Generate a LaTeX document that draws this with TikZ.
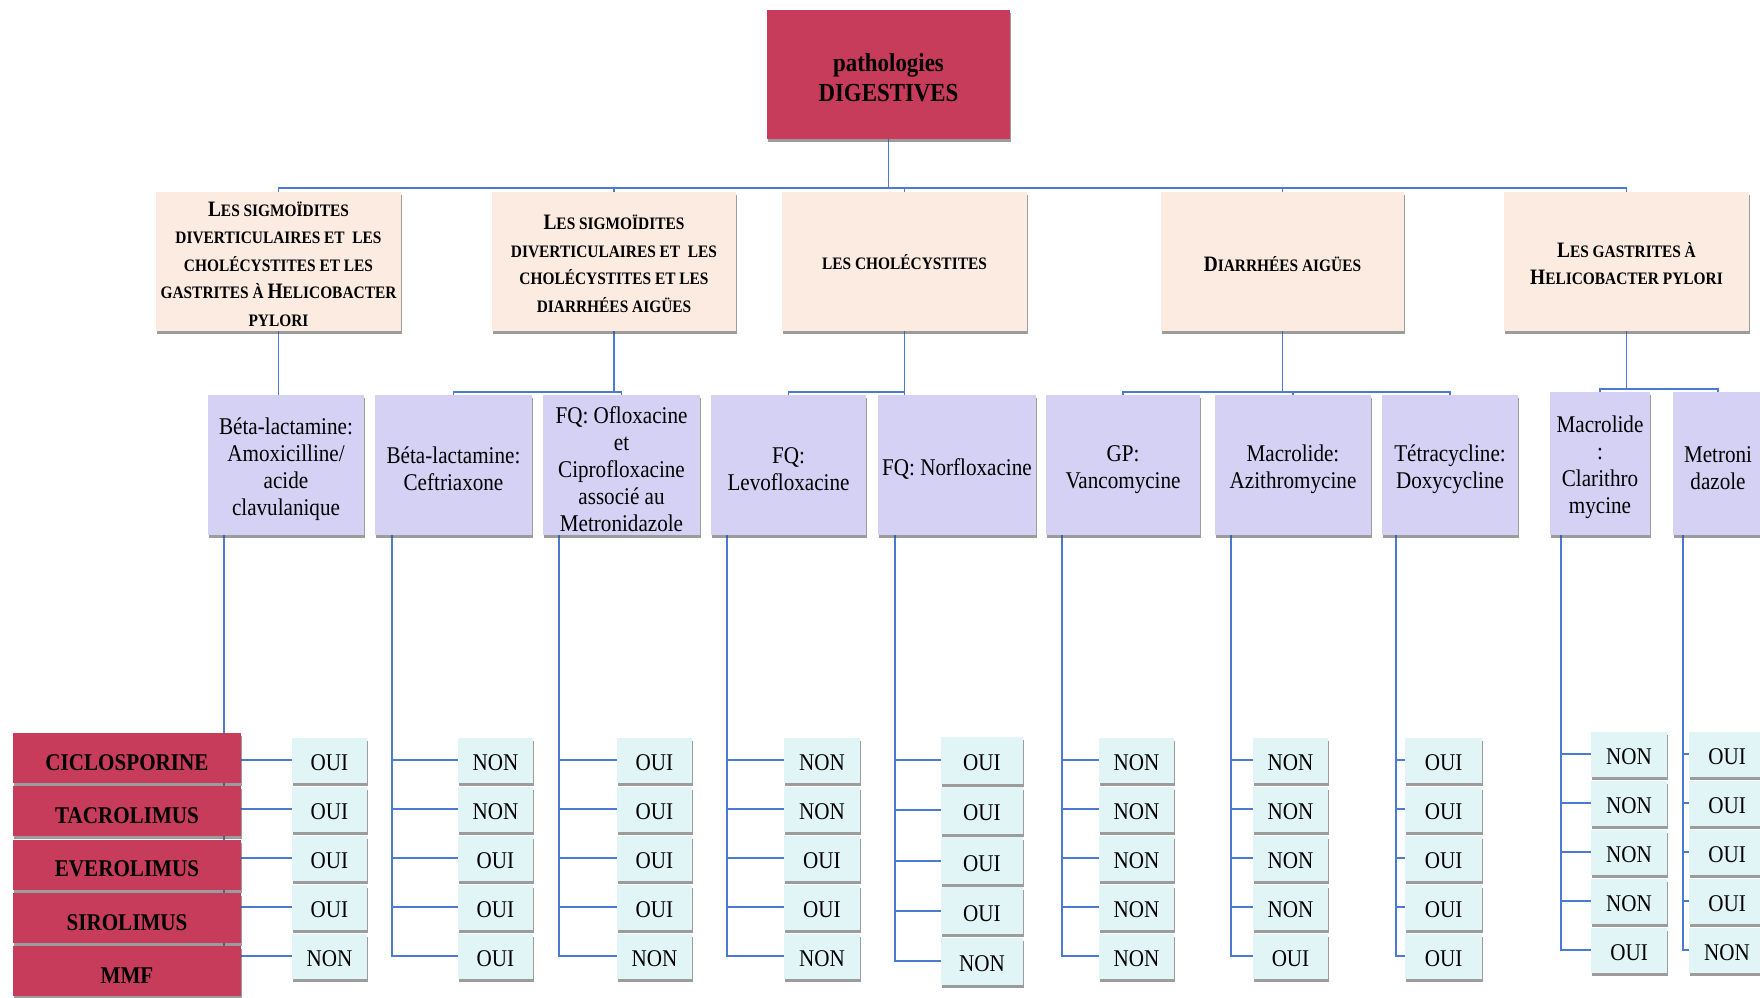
\documentclass[tikz,border=0pt]{standalone}
\usepackage{fontspec}
\setmainfont{Liberation Serif}[FakeStretch=0.88]
\usetikzlibrary{shadows,backgrounds}
\definecolor{crimson}{HTML}{C63C5A}
\definecolor{peach}{HTML}{FCEBE1}
\definecolor{lav}{HTML}{D4D1F5}
\definecolor{aqua}{HTML}{E2F5F6}
\definecolor{connc}{HTML}{4A7BD0}
\newcommand\fsz[2]{\fontsize{#1}{#2}\selectfont}
\newcommand\Cap[1]{{\fontsize{22}{27.5}\selectfont #1}}
\newcommand\st[1]{\rule{0pt}{#1pt}}
\tikzset{
  shd/.style={drop shadow={shadow xshift=0.6pt, shadow yshift=-3pt, fill=black!70, opacity=0.55}},
  bx/.style 2 args={minimum width=#1pt, minimum height=#2pt, inner sep=0pt, align=center, shd},
  topbox/.style={fill=crimson, font=\fsz{26}{30}\bfseries},
  catbox/.style={fill=peach, font=\fsz{17.5}{27.5}\bfseries},
  drugbox/.style={fill=lav, font=\fsz{24}{27}},
  ansbox/.style={fill=aqua, font=\fsz{24}{28}},
  immbox/.style={fill=crimson, font=\fsz{24}{28}\bfseries},
  conn/.style={draw=connc, line width=1.8pt},
}
\begin{document}
\begin{tikzpicture}[x=1pt,y=-1pt]
\useasboundingbox (0,0) rectangle (1760,997);
\clip (0,0) rectangle (1760,997);

% top
\node[topbox, bx={243}{129}] (top) at (888.5,74.5) {\st{24}pathologies\\DIGESTIVES};

% categories
\node[catbox, bx={245}{139}] (c1) at (278.5,261.5) {\st{19.5}\Cap{L}ES SIGMOÏDITES\\DIVERTICULAIRES ET~~LES\\CHOLÉCYSTITES ET LES\\GASTRITES À \Cap{H}ELICOBACTER\\PYLORI};
\node[catbox, bx={244}{139}] (c2) at (614,261.5) {\st{19.5}\Cap{L}ES SIGMOÏDITES\\DIVERTICULAIRES ET~~LES\\CHOLÉCYSTITES ET LES\\DIARRHÉES AIGÜES};
\node[catbox, bx={245}{139}] (c3) at (904.5,261.5) {\st{16.5}LES CHOLÉCYSTITES};
\node[catbox, bx={243}{139}] (c4) at (1282.5,261.5) {\st{19.5}\Cap{D}IARRHÉES AIGÜES};
\node[catbox, bx={245}{139}] (c5) at (1626.5,261.5) {\st{19.5}\Cap{L}ES GASTRITES À\\\Cap{H}ELICOBACTER PYLORI};

% drugs
\node[drugbox, bx={156}{140}] (d1) at (286,465) {\st{25}Béta-lactamine:\\Amoxicilline/\\acide\\clavulanique};
\node[drugbox, bx={157}{140}] (d2) at (453.5,465) {\st{25}Béta-lactamine:\\Ceftriaxone};
\node[drugbox, bx={157}{140}] (d3) at (621.5,465) {\st{25}FQ: Ofloxacine\\et\\Ciprofloxacine\\associé au\\Metronidazole};
\node[drugbox, bx={155}{140}] (d4) at (788.5,465) {\st{25}FQ:\\Levofloxacine};
\node[drugbox, bx={158}{140}] (d5) at (957,465) {\st{25}FQ: Norfloxacine};
\node[drugbox, bx={154}{140}] (d6) at (1123,465) {\st{25}GP:\\Vancomycine};
\node[drugbox, bx={156}{140}] (d7) at (1293,465) {\st{25}Macrolide:\\Azithromycine};
\node[drugbox, bx={136}{140}] (d8) at (1450,465) {\st{25}Tétracycline:\\Doxycycline};
\node[drugbox, bx={100}{143}] (d9) at (1600,463.5) {\st{25}Macrolide\\:\\Clarithro\\mycine};
\node[drugbox, bx={90}{143}] (d10) at (1718,463.5) {\st{25}Metroni\\dazole};

% immunosuppressants
\foreach \t [count=\r] in {CICLOSPORINE,TACROLIMUS,EVEROLIMUS,SIROLIMUS,MMF}{
  \node[immbox, bx={228}{50}] (imm\r) at (127,758+53.3*\r-53.3) {\st{25}\t};
}

% answers
\foreach \c/\x/\w/\y/\p/\h/\lst in {
  1/292/75/760/49/45/{OUI,OUI,OUI,OUI,NON},
  2/458/75/760/49/45/{NON,NON,OUI,OUI,OUI},
  3/617/75/760/49/45/{OUI,OUI,OUI,OUI,NON},
  4/784/76/760/49/45/{NON,NON,OUI,OUI,NON},
  5/941/82/760/50.3/47/{OUI,OUI,OUI,OUI,NON},
  6/1099/75/760/49/45/{NON,NON,NON,NON,NON},
  7/1253/75/760/49/45/{NON,NON,NON,NON,OUI},
  8/1405/77/760/49/45/{OUI,OUI,OUI,OUI,OUI},
  9/1591/76/754/49/45/{NON,NON,NON,NON,OUI},
  10/1689/76/754/49/45/{OUI,OUI,OUI,OUI,NON}}{
  \foreach \t [count=\r] in \lst {
    \node[ansbox, bx={\w}{\h}] (a\c-\r) at (\x+\w/2,\y+\p*\r-\p) {\st{21}\t};
  }
}

\begin{scope}[on background layer]
  \fill[white] (0,0) rectangle (1760,997);
  \coordinate (bus) at (888.5,188);
  \draw[conn] (top.south) -- (bus);
  \foreach \i in {1,...,5} { \draw[conn] (bus) -| (c\i.north); }
  \draw[conn] (c1.south) -- (c1.south |- d1.north);
  \draw[conn] (c2.south) -- ++(0,61) -| (d2.north);
  \draw[conn] (c2.south) -- ++(0,61) -| (d3.north);
  \draw[conn] (c3.south) -- ++(0,61) -| (d4.north);
  \draw[conn] (c3.south) -- (c3.south |- d5.north);
  \draw[conn] (c4.south) -- ++(0,61) -| (d6.north);
  \draw[conn] (c4.south) -- ++(0,61) -| (d7.north);
  \draw[conn] (c4.south) -- ++(0,61) -| (d8.north);
  \draw[conn] (c5.south) -- ++(0,58) -| (d9.north);
  \draw[conn] (c5.south) -- ++(0,58) -| (d10.north);
  \foreach \c/\off in {1/16,2/17,3/16,4/16,5/17,6/16,7/16,8/14,9/11,10/10}{
    \foreach \r in {1,...,5}{
      \draw[conn] ([xshift=\off pt]d\c.south west) |- (a\c-\r.west);
    }
  }
\end{scope}
\end{tikzpicture}
\end{document}
